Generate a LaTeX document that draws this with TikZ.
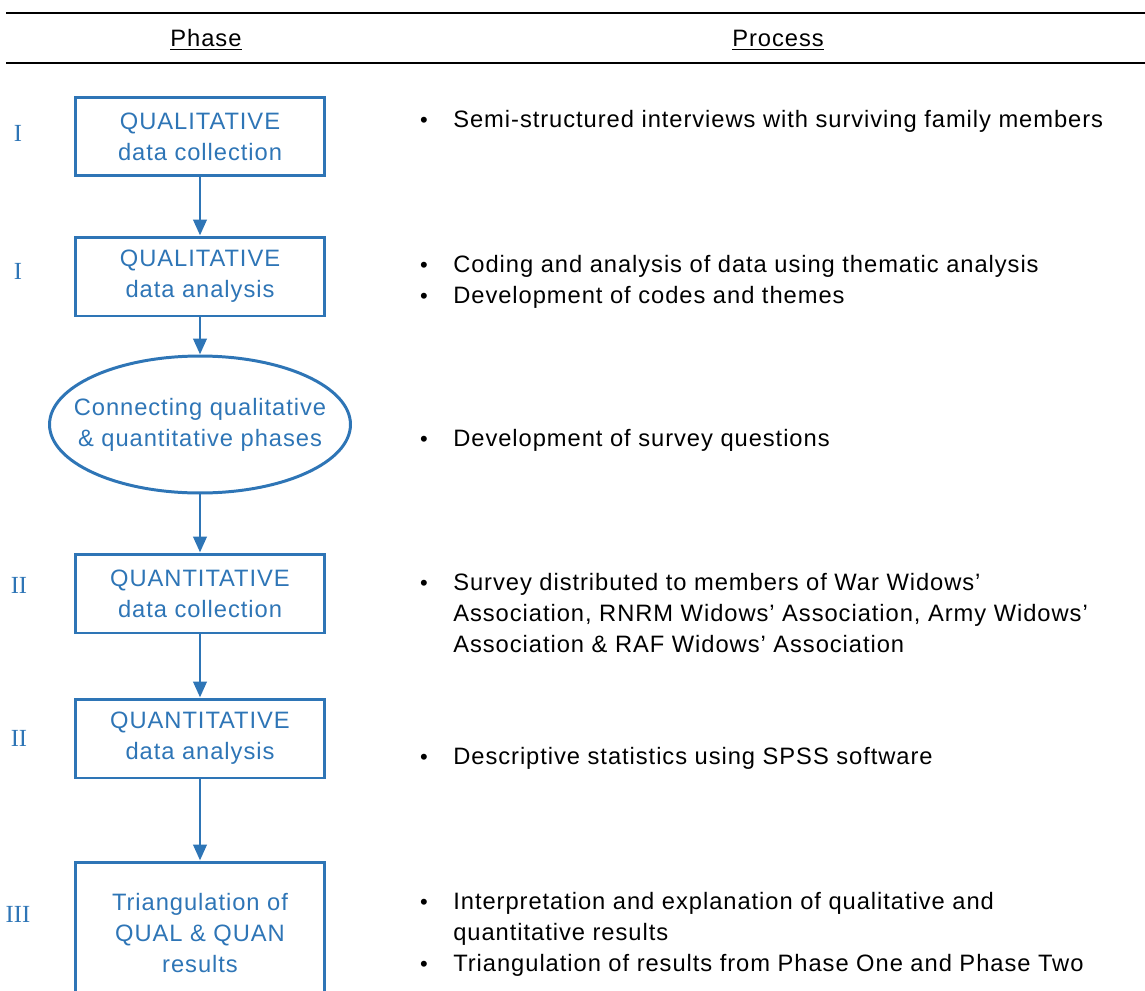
\documentclass[tikz,border=0pt]{standalone}
\usepackage{fontspec}
\setmainfont{Liberation Sans}[LetterSpace=4]
\newfontfamily\numfont{Liberation Serif}
\usetikzlibrary{shapes.geometric,arrows.meta}
\definecolor{flowblue}{RGB}{46,117,182}
\tikzstyle{StepBox}=[rectangle, draw=flowblue, line width=1.7pt, text=flowblue, align=center, minimum width=5cm, minimum height=1.58cm, font=\fontsize{13.5}{17.6}\selectfont]
\tikzstyle{LinkEllipse}=[StepBox, ellipse, minimum width=6.02cm, minimum height=2.74cm, inner xsep=-12pt, inner ysep=0pt]
\tikzstyle{PhaseNum}=[text=flowblue, inner sep=0pt, font=\numfont\fontsize{14}{16}\selectfont]
\tikzstyle{FlowEdge}=[-{Triangle[length=9pt,width=7.5pt]}, draw=flowblue, line width=1.7pt]
\tikzstyle{ProcText}=[anchor=base west, align=left, inner sep=0pt, font=\fontsize{13.5}{17.6}\selectfont]
\tikzstyle{Bullet}=[anchor=base, inner sep=0pt, font=\fontsize{12.5}{17.6}\selectfont]
\tikzstyle{HeadText}=[inner sep=0pt, font=\fontsize{13.5}{17.6}\selectfont]

\begin{document}
\begin{tikzpicture}[x=0.02cm, y=-0.02cm]
\clip (0,0) rectangle (1145,990);

% header rules and titles
\draw[line width=1.2pt] (6,13) -- (1145,13);
\draw[line width=1.6pt] (6,63) -- (1145,63);
\node[HeadText](PhaseHead) at (206,40) {\underline{Phase}};
\node[HeadText](ProcHead) at (778,40) {\underline{Process}};

% flow of the study
\node[StepBox](QualCol) at (200,136.5) {QUALITATIVE\\data collection};
\node[StepBox](QualAna) at (200,276.5) {QUALITATIVE\\data analysis};
\node[LinkEllipse](Connect) at (200,424.5) {Connecting qualitative\\\& quantitative phases};
\node[StepBox](QuanCol) at (200,593.5) {QUANTITATIVE\\data collection};
\node[StepBox](QuanAna) at (200,738.5) {QUANTITATIVE\\data analysis};
\node[StepBox, minimum height=2.84cm](Triang) at (200,933) {Triangulation of\\QUAL \& QUAN\\results};

\draw[FlowEdge](QualCol) -- (QualAna);
\draw[FlowEdge](QualAna) -- (Connect);
\draw[FlowEdge](Connect) -- (QuanCol);
\draw[FlowEdge](QuanCol) -- (QuanAna);
\draw[FlowEdge](QuanAna) -- (Triang);

% phase numbers
\node[PhaseNum](NumA) at (18,133) {I};
\node[PhaseNum](NumB) at (18,271) {I};
\node[PhaseNum](NumC) at (19,585) {II};
\node[PhaseNum](NumD) at (19,738) {II};
\node[PhaseNum](NumE) at (18,914) {III};

% process column (base anchor sits on the last line)
\node[Bullet](BulA) at (424,127) {\textbullet};
\node[ProcText](ProcA) at (453,127) {Semi-structured interviews with surviving family members};
\node[Bullet](BulB) at (424,272) {\textbullet};
\node[ProcText](ProcB) at (453,272) {Coding and analysis of data using thematic analysis};
\node[Bullet](BulC) at (424,303) {\textbullet};
\node[ProcText](ProcC) at (453,303) {Development of codes and themes};
\node[Bullet](BulD) at (424,446) {\textbullet};
\node[ProcText](ProcD) at (453,446) {Development of survey questions};
\node[Bullet](BulE) at (424,590) {\textbullet};
\node[ProcText](ProcE) at (453,652) {Survey distributed to members of War Widows'\\Association, RNRM Widows' Association, Army Widows'\\Association \& RAF Widows' Association};
\node[Bullet](BulF) at (424,764) {\textbullet};
\node[ProcText](ProcF) at (453,764) {Descriptive statistics using SPSS software};
\node[Bullet](BulG) at (424,909) {\textbullet};
\node[ProcText](ProcG) at (453,940) {Interpretation and explanation of qualitative and\\quantitative results};
\node[Bullet](BulH) at (424,971) {\textbullet};
\node[ProcText](ProcH) at (453,971) {Triangulation of results from Phase One and Phase Two};
\end{tikzpicture}
\end{document}
